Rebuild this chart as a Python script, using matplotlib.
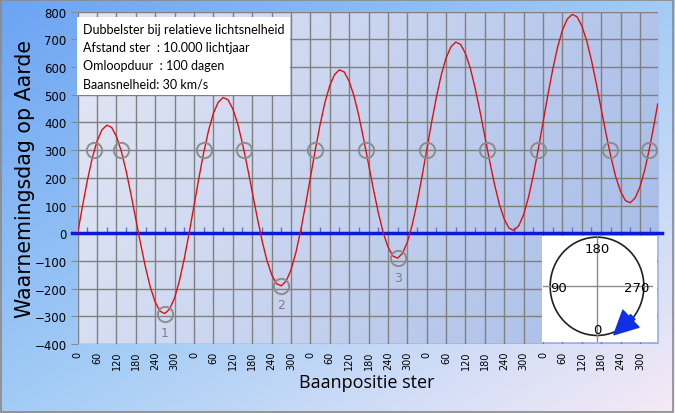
import numpy as np
import matplotlib
matplotlib.use('Agg')
import matplotlib.pyplot as plt
from matplotlib.colors import LinearSegmentedColormap
from matplotlib.patches import Ellipse, FancyArrowPatch, Rectangle

# baanpositie (graden, doorlopend over 5 omlopen) en waarnemingsdag op aarde
positie = list(range(0, 1800, 15)) + [1795]
dag = [0, 99, 191, 271, 333, 373, 390, 382, 349, 296, 224, 140,
       50, -40, -124, -196, -249, -282, -290, -273, -233, -171, -91, 1,
       100, 199, 291, 371, 433, 473, 490, 482, 449, 396, 324, 240,
       150, 60, -24, -96, -149, -182, -190, -173, -133, -71, 9, 101,
       200, 299, 391, 471, 533, 573, 590, 582, 549, 496, 424, 340,
       250, 160, 76, 4, -49, -82, -90, -73, -33, 29, 109, 201,
       300, 399, 491, 571, 633, 673, 690, 682, 649, 596, 524, 440,
       350, 260, 176, 104, 51, 18, 10, 27, 67, 129, 209, 301,
       400, 499, 591, 671, 733, 773, 790, 782, 749, 696, 624, 540,
       450, 360, 276, 204, 151, 118, 110, 127, 167, 229, 309, 401,
       467]

# snijpunten met dag 300 en de drie minima
snij_x = [52, 134, 392, 515, 735, 892, 1080, 1268, 1425, 1646, 1768]
snij_y = [300] * len(snij_x)
min_x = [270, 630, 990]
min_y = [-290, -190, -90]
min_labels = ['1', '2', '3']

tick_pos = list(range(0, 1800, 60))
tick_labels = ['0', '60', '120', '180', '240', '300'] * 5

info = ['Dubbelster bij relatieve lichtsnelheid',
        'Afstand ster  : 10.000 lichtjaar',
        'Omloopduur  : 100 dagen',
        'Baansnelheid: 30 km/s']

fig = plt.figure(figsize=(6.75, 4.14), dpi=100)

# achtergrond met kleurverloop
bg = fig.add_axes([0, 0, 1, 1], zorder=-10)
u, v = np.meshgrid(np.linspace(0, 1, 200), np.linspace(0, 1, 200))
bg_cmap = LinearSegmentedColormap.from_list('bg', ['#6ca4f3', '#a2ccf6', '#f6eaf6'])
bg.imshow((u + v) / 2, cmap=bg_cmap, extent=[0, 1, 0, 1], aspect='auto', origin='upper')
bg.add_patch(Rectangle((0.001, 0.002), 0.996, 0.995, fill=False, edgecolor='#8a8a8a', lw=1.2))
bg.set_xlim(0, 1)
bg.set_ylim(0, 1)
bg.axis('off')

ax = fig.add_axes([0.1151, 0.1667, 0.8593, 0.8027])
pa_cmap = LinearSegmentedColormap.from_list('pa', ['#e3e7f5', '#a5bbe7'])
ax.imshow(0.8 * u + 0.2 * (1 - v), cmap=pa_cmap, extent=[0, 1, 0, 1], aspect='auto',
          transform=ax.transAxes, zorder=0, origin='lower')

ax.plot(positie, dag, color='#e01010', lw=1.0, zorder=4)
ax.plot(snij_x, snij_y, 'o', ms=11, mfc='none', mec='#8c8c8c', mew=1.4, zorder=5)
ax.plot(min_x, min_y, 'o', ms=11, mfc='none', mec='#8c8c8c', mew=1.4, zorder=5)
for x, y, s in zip(min_x, min_y, min_labels):
    ax.annotate(s, (x, y), xytext=(0, -9), textcoords='offset points',
                ha='center', va='top', fontsize=9, color='#808080')

ax.axhline(0, xmin=-0.009, xmax=1.007, color='#0a1ad8', lw=2.5, zorder=3, clip_on=False)
sec = ax.secondary_xaxis(1 / 3)
sec.set_xticks(list(range(30, 1800, 60)))
sec.tick_params(direction='in', length=4, color='#5a72d8', width=1, labelbottom=False, labeltop=False)
for sp in sec.spines.values():
    sp.set_visible(False)

ax.set_xlim(0, 1795)
ax.set_ylim(-400, 800)
ax.set_yticks(range(-400, 801, 100))
ax.set_xticks(tick_pos)
ax.set_xticklabels(tick_labels, rotation=90, fontsize=7)
ax.tick_params(axis='x', length=0, pad=5)
ax.tick_params(axis='y', length=5, color='#8a8a8a', labelsize=8.5, pad=3)
ax.grid(True, color='#808080', lw=1.0, zorder=1)
ax.set_axisbelow(True)
for sp in ax.spines.values():
    sp.set_visible(False)

fig.text(0.037, 0.567, 'Waarnemingsdag op Aarde', rotation=90, ha='center', va='center', fontsize=14.8)
fig.text(0.544, 0.075, 'Baanpositie ster', ha='center', va='center', fontsize=13, family='Open Sans')

fig.text(0.123, 0.943, '\n'.join(info), ha='left', va='top', fontsize=9.0, family='Lato',
         linespacing=1.62,
         bbox=dict(boxstyle='square,pad=0.45', facecolor='white', edgecolor='none'))

# inzet met de baan
ins = fig.add_axes([0.803, 0.1715, 0.170, 0.256])
ins.set_facecolor('white')
ins.set_xlim(-1.2, 1.2)
ins.set_ylim(-1.1, 1.1)
ins.set_xticks([])
ins.set_yticks([])
for sp in ins.spines.values():
    sp.set_visible(False)
ins.plot([-1.18, 1.10], [0.06, 0.06], color='#8c8c8c', lw=1)
ins.plot([-0.05, -0.05], [1.08, -1.1], color='#8c8c8c', lw=1)
ins.add_patch(Ellipse((-0.05, 0.056), 1.96, 2.04, fill=False, edgecolor='#202020', lw=1.2))
ins.text(-0.05, 0.84, '180', ha='center', va='center', fontsize=9.5)
ins.text(-0.86, 0.04, '90', ha='center', va='center', fontsize=9.5)
ins.text(0.79, 0.04, '270', ha='center', va='center', fontsize=9.5)
ins.text(-0.05, -0.84, '0', ha='center', va='center', fontsize=9.5)
ins.add_patch(FancyArrowPatch((0.74, -0.54), (0.26, -0.99),
                              arrowstyle='simple,head_width=1.3,head_length=1.3,tail_width=0.35',
                              mutation_scale=13, color='#1030e8', clip_on=False))

fig.savefig('out.png', dpi=100)
